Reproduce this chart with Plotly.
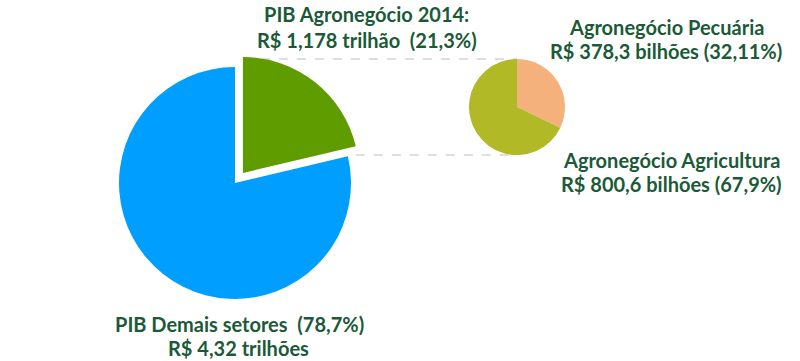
import math
import plotly.graph_objects as go

W, H = 800, 361

# Data
main_labels = ["PIB Agronegócio 2014", "PIB Demais setores"]
main_values = [21.3, 78.7]
main_colors = ["#5E9C00", "#009FFF"]

sub_labels = ["Agronegócio Pecuária", "Agronegócio Agricultura"]
sub_values = [378.3, 800.6]
sub_colors = ["#F5B17B", "#B1BA26"]

text_lines = [
    ("PIB Agronegócio 2014:", 366, 14),
    ("R$ 1,178 trilhão  (21,3%)", 367, 40),
    ("Agronegócio Pecuária", 666, 27),
    ("R$ 378,3 bilhões (32,11%)", 666, 51),
    ("Agronegócio Agricultura", 671, 160),
    ("R$ 800,6 bilhões (67,9%)", 671, 184),
    ("PIB Demais setores  (78,7%)", 239, 324),
    ("R$ 4,32 trilhões", 238, 348),
]

TEXT_COLOR = "#1B5A38"
FONT = "Lato"

# Geometry (pixels)
big_c = (235, 183)
big_r = 116
pull = 0.11
small_c = (517, 107)
small_r = 48


def dom(c, half):
    return dict(x=[(c[0] - half) / W, (c[0] + half) / W],
                y=[1 - (c[1] + half) / H, 1 - (c[1] - half) / H])


fig = go.Figure()
fig.add_trace(go.Pie(
    labels=main_labels, values=main_values, sort=False, direction="clockwise",
    rotation=0, pull=[pull, 0], marker=dict(colors=main_colors, line=dict(width=0)),
    textinfo="none", hoverinfo="label+percent", showlegend=False,
    domain=dom(big_c, big_r * (1 + pull)),
))
fig.add_trace(go.Pie(
    labels=sub_labels, values=sub_values, sort=False, direction="clockwise",
    rotation=0, marker=dict(colors=sub_colors, line=dict(width=0)),
    textinfo="none", hoverinfo="label+percent", showlegend=False,
    domain=dom(small_c, small_r),
))

# connector lines derived from pie geometry
frac = main_values[0] / sum(main_values)
ang = 2 * math.pi * frac
mid = ang / 2
vx = big_c[0] + pull * big_r * math.sin(mid)
vy = big_c[1] - pull * big_r * math.cos(mid)
p_top = (vx, vy - big_r)
p_end = (vx + big_r * math.sin(ang), vy - big_r * math.cos(ang))
s_top = (small_c[0], small_c[1] - small_r)
s_bot = (small_c[0], small_c[1] + small_r)

for a, b in [(p_top, s_top), (p_end, s_bot)]:
    fig.add_shape(type="line", xref="paper", yref="paper",
                  x0=a[0] / W, y0=1 - b[1] / H, x1=b[0] / W, y1=1 - b[1] / H,
                  line=dict(color="#BDBDBD", width=1.2, dash="dash"), layer="below")

for t, x, y in text_lines:
    fig.add_annotation(text=f"<b>{t}</b>", x=x / W, y=1 - y / H, xref="paper", yref="paper",
                       xanchor="center", yanchor="middle", showarrow=False,
                       font=dict(family=FONT, size=20, color=TEXT_COLOR))

fig.update_layout(width=W, height=H, margin=dict(l=0, r=0, t=0, b=0),
                  paper_bgcolor="white", plot_bgcolor="white")
fig.write_html("out.html", config={"displayModeBar": False},
               post_script="document.body.style.margin='0';document.body.style.overflow='hidden';")
